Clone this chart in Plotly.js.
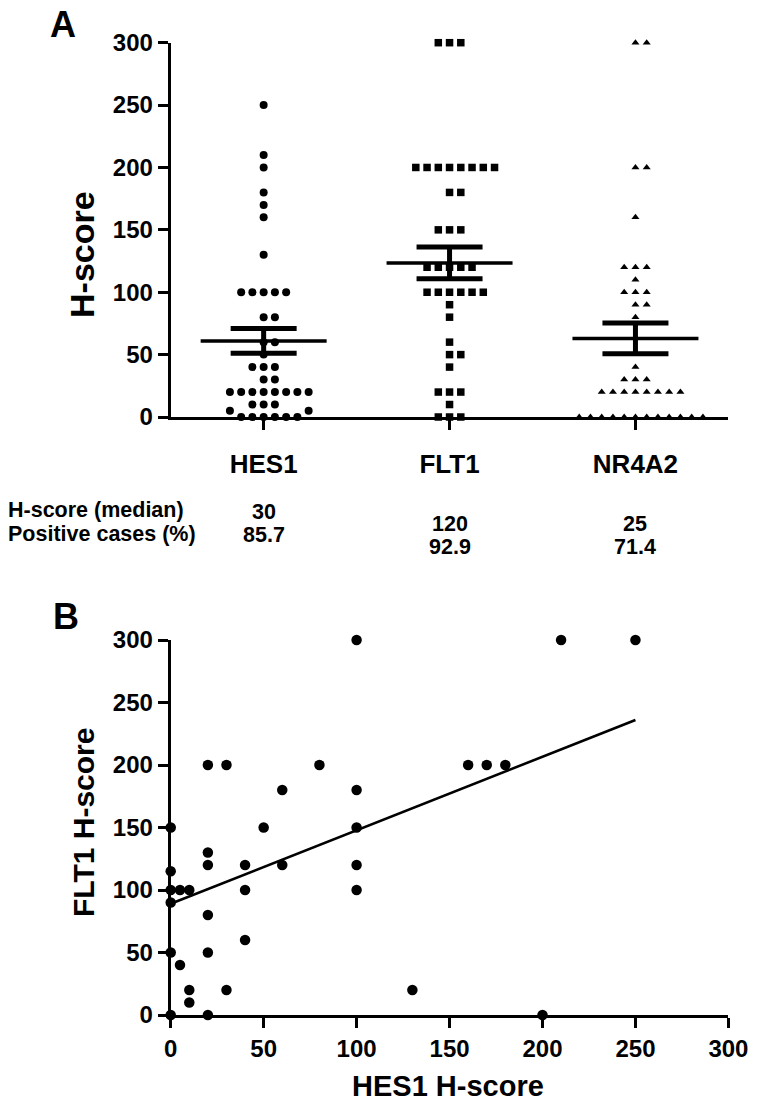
<!DOCTYPE html>
<html>
<head>
<meta charset="utf-8">
<script src="https://cdn.plot.ly/plotly-3.0.1.min.js"></script>
<style>
  html, body { margin: 0; padding: 0; background: #fff; }
  #chart { width: 758px; height: 1112px; }
</style>
</head>
<body>
<div id="chart"></div>
<script>
// ---------------- DATA ----------------
const categories = ['HES1', 'FLT1', 'NR4A2'];

const hes1Scores = [250, 210, 200, 180, 170, 160, 130,
  100, 100, 100, 100, 100, 80, 80, 60, 60, 50, 40, 40, 40, 30, 30,
  20, 20, 20, 20, 20, 20, 20, 20, 10, 10, 10, 5, 5, 0, 0, 0, 0, 0, 0];

const flt1Scores = [300, 300, 300,
  200, 200, 200, 200, 200, 200, 200, 200, 180, 180, 150, 150, 150,
  120, 120, 120, 120, 120, 100, 100, 100, 100, 100, 100,
  90, 80, 60, 50, 50, 40, 20, 20, 20, 10, 0, 0, 0];

const nr4a2Scores = [300, 300, 200, 200, 160, 120, 120, 120, 110,
  100, 100, 100, 90, 90, 80, 40, 30, 30, 30,
  20, 20, 20, 20, 20, 20, 20, 20,
  0, 0, 0, 0, 0, 0, 0, 0, 0, 0, 0, 0];

const groupMeans = [61, 123.5, 63];
const groupSEM = [10, 12.7, 12.3];

const medianRow = ['30', '120', '25'];
const positiveRow = ['85.7', '92.9', '71.4'];
const rowLabels = ['H-score (median)', 'Positive cases (%)'];

// Panel B: HES1 (x) vs FLT1 (y) H-scores
const scatterHES1 = [100, 210, 250, 20, 30, 80, 160, 170, 180, 60, 100,
  0, 50, 100, 20, 20, 40, 60, 100, 0, 0, 5, 10, 40, 100, 0,
  20, 40, 0, 20, 5, 10, 30, 130, 10, 0, 20, 200];
const scatterFLT1 = [300, 300, 300, 200, 200, 200, 200, 200, 200, 180, 180,
  150, 150, 150, 130, 120, 120, 120, 120, 115, 100, 100, 100, 100, 100, 90,
  80, 60, 50, 50, 40, 20, 20, 20, 10, 0, 0, 0];
const fitX = [0, 250];
const fitY = [89, 236];

// ---------------- LAYOUT HELPERS ----------------
const W = 758, H = 1112;
const px = v => v / W;
const py = v => 1 - v / H;
const FONT = 'Liberation Sans, Arial, Helvetica, sans-serif';
const f = (size) => ({ family: FONT, size: size, color: '#000', weight: 'bold' });

// beeswarm placement (collision based, like GraphPad column scatter)
function swarm(values, center, step, thr) {
  const order = values.map((v, i) => i).sort((a, b) => values[a] - values[b]);
  const placed = [];
  const xs = new Array(values.length);
  order.forEach(i => {
    const v = values[i];
    for (let n = 0; n < 100; n++) {
      const k = n === 0 ? 0 : (n % 2 === 1 ? (n + 1) / 2 : -n / 2);
      const hit = placed.some(p => p.k === k && Math.abs(p.v - v) < thr);
      if (!hit) { placed.push({ k: k, v: v }); xs[i] = center + k * step; break; }
    }
  });
  return xs;
}

const STEP = 0.0605;
const THR = 7;
const groups = [hes1Scores, flt1Scores, nr4a2Scores];
const symbols = ['circle', 'square', 'triangle-up'];
const sizes = [8, 7.5, 7];

const traces = [];
groups.forEach((vals, gi) => {
  traces.push({
    type: 'scatter', mode: 'markers',
    x: swarm(vals, gi + 1, STEP, THR), y: vals,
    xaxis: 'x', yaxis: 'y',
    marker: { symbol: symbols[gi], size: sizes[gi], color: '#000' },
    cliponaxis: false, hoverinfo: 'skip'
  });
});

// mean ± SEM
traces.push({
  type: 'scatter', mode: 'markers',
  x: [1, 2, 3], y: groupMeans, xaxis: 'x', yaxis: 'y',
  marker: { symbol: 'line-ew', size: 90, color: '#000', line: { color: '#000', width: 3.5 } },
  error_y: { type: 'data', array: groupSEM, visible: true, color: '#000', thickness: 5, width: 33 },
  cliponaxis: false, hoverinfo: 'skip'
});

// Panel B
traces.push({
  type: 'scatter', mode: 'lines', x: fitX, y: fitY, xaxis: 'x2', yaxis: 'y2',
  line: { color: '#000', width: 2.6 }, hoverinfo: 'skip'
});
traces.push({
  type: 'scatter', mode: 'markers', x: scatterHES1, y: scatterFLT1, xaxis: 'x2', yaxis: 'y2',
  marker: { symbol: 'circle', size: 10.5, color: '#000' }, cliponaxis: false, hoverinfo: 'skip'
});

const axisCommon = {
  showgrid: false, zeroline: false, showline: true, linecolor: '#000', linewidth: 3,
  ticks: 'outside', ticklen: 10, tickwidth: 3, tickcolor: '#000',
  tickfont: f(24), fixedrange: true
};

const xDom = [px(170.7), px(728.4)];

const annotations = [
  { text: 'A', x: px(63), y: py(25), font: f(36) },
  { text: 'B', x: px(66), y: py(616), font: f(36) },
  { text: 'H-score', x: px(82), y: py(255), textangle: -90, font: f(34) },
  { text: 'FLT1 H-score', x: px(83), y: py(823), textangle: -90, font: f(30) },
  { text: 'HES1 H-score', x: px(448), y: py(1086), font: f(29) },
  { text: rowLabels[0], x: px(6), y: py(510), xanchor: 'left', font: f(21.5) },
  { text: rowLabels[1], x: px(6), y: py(534), xanchor: 'left', font: f(21.5) }
].map(a => Object.assign({ xref: 'paper', yref: 'paper', showarrow: false, xanchor: 'center', yanchor: 'middle' }, a));

const rowY1 = [512, 524, 524];
const rowY2 = [535, 547, 547];
categories.forEach((c, i) => {
  annotations.push({ text: medianRow[i], x: i + 1, xref: 'x', y: py(rowY1[i]), yref: 'paper',
    showarrow: false, xanchor: 'center', yanchor: 'middle', font: f(21.5) });
  annotations.push({ text: positiveRow[i], x: i + 1, xref: 'x', y: py(rowY2[i]), yref: 'paper',
    showarrow: false, xanchor: 'center', yanchor: 'middle', font: f(21.5) });
});

const layout = {
  width: W, height: H,
  margin: { l: 0, r: 0, t: 0, b: 0 },
  paper_bgcolor: '#fff', plot_bgcolor: '#fff',
  showlegend: false,
  font: f(24),
  xaxis: Object.assign({}, axisCommon, {
    domain: xDom, range: [0.5, 3.5], tickvals: [1, 2, 3], ticktext: categories,
    tickfont: f(26), ticklabelstandoff: 12, anchor: 'y'
  }),
  yaxis: Object.assign({}, axisCommon, {
    domain: [py(417), py(42.7)], range: [0, 300], tickvals: [0, 50, 100, 150, 200, 250, 300], anchor: 'x'
  }),
  xaxis2: Object.assign({}, axisCommon, {
    domain: xDom, range: [0, 300], tickvals: [0, 50, 100, 150, 200, 250, 300], anchor: 'y2'
  }),
  yaxis2: Object.assign({}, axisCommon, {
    domain: [py(1015), py(640)], range: [0, 300], tickvals: [0, 50, 100, 150, 200, 250, 300], anchor: 'x2'
  }),
  annotations: annotations
};

Plotly.newPlot('chart', traces, layout, { staticPlot: true, displayModeBar: false });
</script>
</body>
</html>
